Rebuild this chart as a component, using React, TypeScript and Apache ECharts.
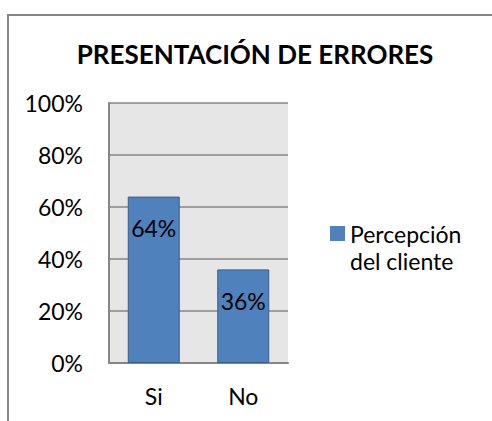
import React, { useEffect, useRef } from "react";
import * as echarts from "echarts";

const categories = ["Si", "No"];
const values = [64, 36];
const seriesName = "Percepción del cliente";
const titleText = "PRESENTACIÓN DE ERRORES";

const FONT = "Lato, 'Noto Sans', sans-serif";

export default function App() {
  const ref = useRef<HTMLDivElement>(null);
  useEffect(() => {
    if (!ref.current) return;
    const chart = echarts.init(ref.current, undefined, { renderer: "svg" });
    chart.setOption({
      animation: false,
      backgroundColor: "#ffffff",
      title: {
        text: titleText,
        left: 250,
        textAlign: "center",
        top: 36,
        textStyle: { fontFamily: FONT, fontSize: 26, fontWeight: "bold", color: "#000" },
      },
      legend: {
        data: [seriesName],
        left: 330,
        top: 220,
        padding: 0,
        orient: "vertical",
        itemWidth: 15,
        itemHeight: 42,
        itemGap: 0,
        icon: "path://M0,0H10V10H0Z M0,27.99H0.01V28H0Z",
        itemStyle: { color: "#4F81BD", borderWidth: 0 },
        formatter: () => "Percepción\ndel cliente",
        textStyle: { fontFamily: FONT, fontSize: 23, color: "#000", lineHeight: 27 },
      },
      grid: {
        left: 109,
        top: 103,
        right: 204,
        bottom: 58,
        show: true,
        backgroundColor: "#E6E6E6",
        borderWidth: 0,
      },
      xAxis: {
        type: "category",
        data: categories,
        axisLine: { show: true, lineStyle: { color: "#868686", width: 2 } },
        axisTick: { show: false },
        axisLabel: { fontFamily: FONT, fontSize: 23, color: "#000", margin: 21 },
      },
      yAxis: {
        type: "value",
        min: 0,
        max: 100,
        interval: 20,
        axisLine: { show: true, lineStyle: { color: "#868686", width: 2 } },
        axisTick: { show: false },
        splitLine: { show: true, lineStyle: { color: "#868686", width: 1.5 } },
        axisLabel: {
          fontFamily: FONT,
          fontSize: 23,
          color: "#000",
          margin: 26,
          formatter: (v: number) => v + "%",
        },
      },
      series: [
        {
          name: seriesName,
          type: "bar",
          data: values,
          barWidth: 52,
          itemStyle: { color: "#4F81BD", borderColor: "#385D8A", borderWidth: 1 },
          label: {
            show: true,
            position: "insideTop",
            distance: 20,
            fontFamily: FONT,
            fontSize: 23,
            color: "#000",
            formatter: (p: any) => p.value + "%",
          },
        },
      ],
      graphic: [
        {
          type: "rect",
          shape: { x: 8, y: 15, width: 700, height: 700 },
          style: { fill: "none", stroke: "#868686", lineWidth: 2 },
          silent: true,
        },
      ],
    });
    return () => chart.dispose();
  }, []);
  return (
    <div
      ref={ref}
      style={{ position: "absolute", left: 0, top: 0, width: 492, height: 421 }}
    />
  );
}
